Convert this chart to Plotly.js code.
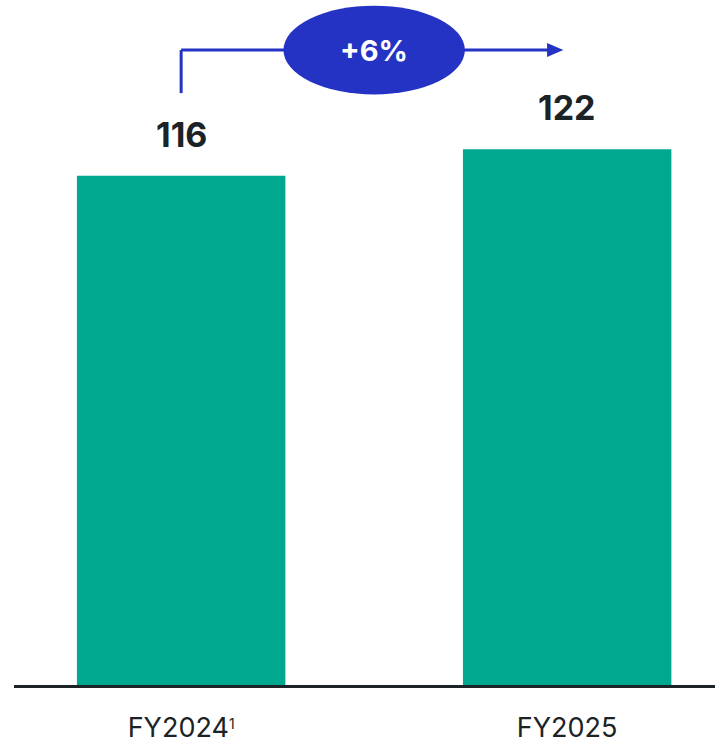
<!DOCTYPE html>
<html>
<head>
<meta charset="utf-8">
<script src="https://cdn.plot.ly/plotly-3.0.1.min.js"></script>
<style>html,body{margin:0;padding:0;background:#fff;}#chart{width:715px;height:743px;}</style>
</head>
<body>
<div id="chart"></div>
<script>
const categories = ["FY2024", "FY2025"];
const tickLabels = ["FY2024<span style='font-size:20px'><sup>1</sup></span>", "FY2025"];
const values = [116, 122];
const growthLabel = "+6%";

const barColor = "#00A88F";
const textColor = "#1C2326";
const blue = "#2433C4";
const font = "Inter, 'Liberation Sans', Arial, sans-serif";

const yMax = 156;
const bracketLow = 134.8;
const bracketY = 144.6;
const ellipseHalfH = 10.1;

const trace = {
  type: "bar",
  x: [0, 1],
  y: values,
  width: 0.54,
  marker: {color: barColor},
  hoverinfo: "skip"
};

const annotations = values.map((v, i) => ({
  x: i, y: v, xref: "x", yref: "y",
  text: "<b>" + v + "</b>",
  showarrow: false,
  yanchor: "bottom",
  yshift: 19,
  font: {family: font, size: 34, color: textColor}
}));

annotations.push({
  x: 0.5, y: bracketY, xref: "x", yref: "y",
  text: "<b>" + growthLabel + "</b>",
  showarrow: false,
  font: {family: font, size: 29, color: "#ffffff"}
});

const tipX = 0.99, baseX = 0.948, headH = 1.6;
const shapes = [
  {type: "line", xref: "x", yref: "y", x0: 0, x1: 0, y0: bracketLow, y1: bracketY,
   line: {color: blue, width: 3}},
  {type: "line", xref: "x", yref: "y", x0: 0, x1: 0.3, y0: bracketY, y1: bracketY,
   line: {color: blue, width: 3}},
  {type: "line", xref: "x", yref: "y", x0: 0.7, x1: baseX + 0.01, y0: bracketY, y1: bracketY,
   line: {color: blue, width: 3}},
  {type: "path", xref: "x", yref: "y",
   path: "M" + baseX + "," + (bracketY - headH) + " L" + tipX + "," + bracketY +
         " L" + baseX + "," + (bracketY + headH) + " Z",
   fillcolor: blue, line: {width: 0}},
  {type: "circle", xref: "x", yref: "y", x0: 0.265, x1: 0.735,
   y0: bracketY - ellipseHalfH, y1: bracketY + ellipseHalfH,
   fillcolor: blue, line: {width: 0}}
];

const layout = {
  width: 715, height: 743,
  margin: {l: 14, r: 0, t: 0, b: 58},
  paper_bgcolor: "#ffffff",
  plot_bgcolor: "#ffffff",
  showlegend: false,
  xaxis: {
    range: [-0.433, 1.383],
    tickvals: [0, 1],
    ticktext: tickLabels,
    tickfont: {family: font, size: 27, color: textColor},
    ticks: "",
    ticklabelstandoff: 17,
    showline: true,
    linecolor: textColor,
    linewidth: 3,
    showgrid: false,
    zeroline: false,
    automargin: false,
    fixedrange: true
  },
  yaxis: {
    range: [0, yMax],
    visible: false,
    showgrid: false,
    zeroline: false,
    fixedrange: true
  },
  annotations: annotations,
  shapes: shapes
};

Plotly.newPlot("chart", [trace], layout, {displayModeBar: false, staticPlot: true});
</script>
</body>
</html>
